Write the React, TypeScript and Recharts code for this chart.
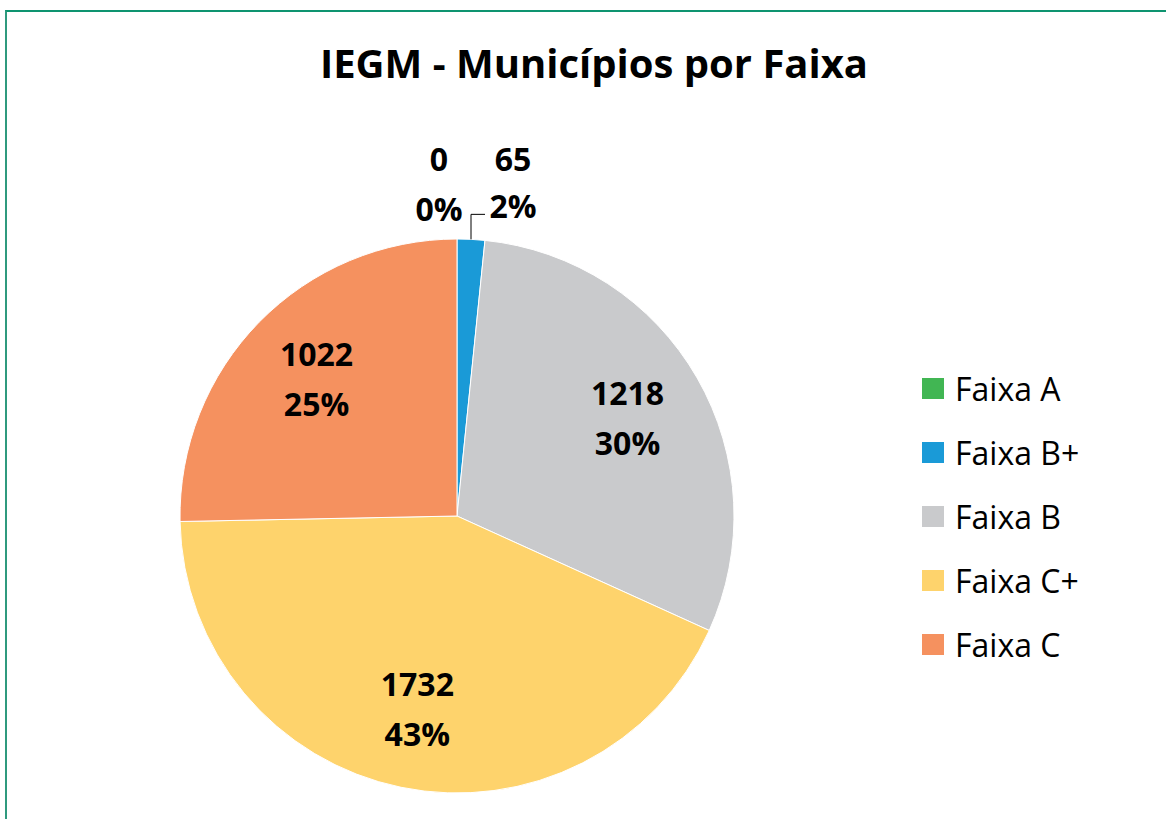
import React from 'react';
import { PieChart, Pie, Cell, Legend } from 'recharts';

const FAIXAS = ['Faixa A', 'Faixa B+', 'Faixa B', 'Faixa C+', 'Faixa C'];
const MUNICIPIOS = [0, 65, 1218, 1732, 1022];
const CORES = ['#41b653', '#1a9ad7', '#c9cacc', '#fed36c', '#f5915f'];

const chartData = FAIXAS.map((name, i) => ({ name, value: MUNICIPIOS[i] }));

const FONT = '"Open Sans", "Liberation Sans", sans-serif';
const RAD = Math.PI / 180;

const renderLabel = (props: any) => {
  const { cx, cy, midAngle, outerRadius, percent, value, index } = props;
  const pct = `${Math.round((percent || 0) * 100)}%`;
  const common = {
    fill: '#000',
    fontSize: 32,
    fontWeight: 700,
    fontFamily: FONT,
    textAnchor: 'middle' as const,
    dominantBaseline: 'central' as const,
  };
  if ((percent || 0) < 0.05) {
    // small slices: label above the pie
    const ax = cx + outerRadius * Math.cos(-midAngle * RAD);
    const ay = cy + outerRadius * Math.sin(-midAngle * RAD);
    if (index === 0) {
      const x = ax - 18;
      return (
        <g key={`lbl-${index}`}>
          <text x={x} y={ay - 81} {...common}>{value}</text>
          <text x={x} y={ay - 31} {...common}>{pct}</text>
        </g>
      );
    }
    const ly = ay - 25;
    const x = ax + 42;
    return (
      <g key={`lbl-${index}`}>
        <polyline
          points={`${ax},${ay} ${ax},${ly} ${ax + 14},${ly}`}
          fill="none"
          stroke="#000"
          strokeWidth={1}
        />
        <text x={x} y={ay - 81} {...common}>{value}</text>
        <text x={x} y={ay - 34} {...common}>{pct}</text>
      </g>
    );
  }
  const r = outerRadius * 0.71;
  const x = cx + r * Math.cos(-midAngle * RAD);
  const y = cy + r * Math.sin(-midAngle * RAD);
  return (
    <g key={`lbl-${index}`}>
      <text x={x} y={y - 25} {...common}>{value}</text>
      <text x={x} y={y + 25} {...common}>{pct}</text>
    </g>
  );
};

// legend kept in data order (Excel style), not sorted
const CustomLegend = () => (
  <div>
    {FAIXAS.map((name, i) => (
      <div
        key={`leg-${i}`}
        style={{ display: 'flex', alignItems: 'center', height: 64 }}
      >
        <div style={{ width: 22, height: 21, backgroundColor: CORES[i], marginRight: 11 }} />
        <span style={{ fontFamily: FONT, fontSize: 32, color: '#000' }}>{name}</span>
      </div>
    ))}
  </div>
);

export default function App() {
  return (
    <div style={{ position: 'absolute', left: 0, top: 0, width: 1166, height: 819, background: '#fff', overflow: 'hidden' }}>
      <div
        style={{
          position: 'absolute',
          left: 5,
          top: 10,
          width: 1200,
          height: 850,
          borderTop: '2px solid #0e9470',
          borderLeft: '2px solid #2f9a7e',
        }}
      />
      <div
        style={{
          position: 'absolute',
          left: 0,
          top: 35,
          width: 1188,
          textAlign: 'center',
          fontFamily: FONT,
          fontWeight: 700,
          fontSize: 40,
          color: '#000',
        }}
      >
        IEGM - Municípios por Faixa
      </div>
      <div style={{ position: 'absolute', left: 0, top: 0 }}>
        <PieChart width={1166} height={819} margin={{ top: 0, right: 0, bottom: 0, left: 0 }}>
          <Pie
            data={chartData}
            dataKey="value"
            nameKey="name"
            cx={457}
            cy={516}
            outerRadius={277}
            startAngle={90}
            endAngle={-270}
            stroke="#fff"
            strokeWidth={1}
            label={renderLabel}
            labelLine={false}
            isAnimationActive={false}
          >
            {chartData.map((d, i) => (
              <Cell key={d.name} fill={CORES[i]} />
            ))}
          </Pie>
          <Legend
            content={<CustomLegend />}
            wrapperStyle={{ position: 'absolute', left: 922, top: 356, width: 220 }}
          />
        </PieChart>
      </div>
    </div>
  );
}
